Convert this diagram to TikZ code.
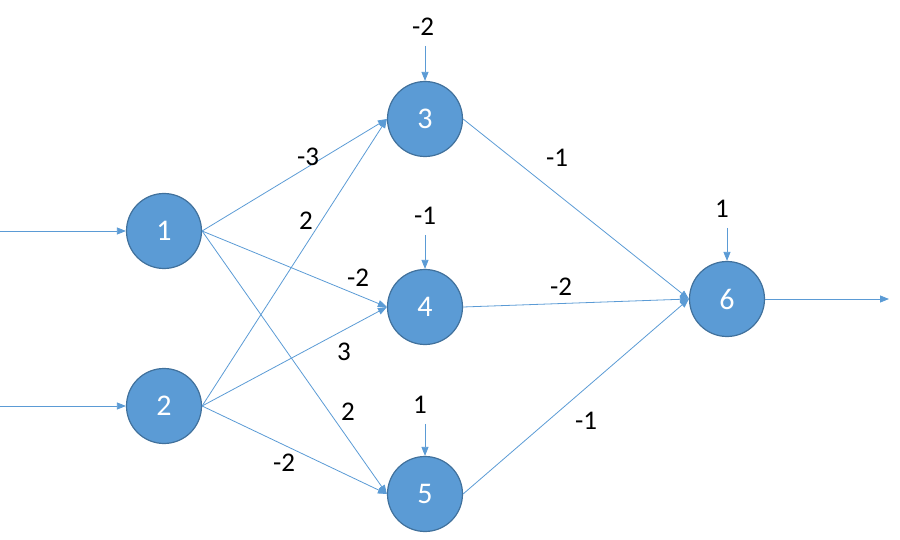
\documentclass[tikz,border=0pt]{standalone}
\usepackage{fontspec}
\setmainfont{Carlito}
\usetikzlibrary{arrows.meta}
\definecolor{cNode}{RGB}{91,155,213}
\definecolor{cRim}{RGB}{65,113,156}

\begin{document}
\begin{tikzpicture}[
  x=1pt, y=-1pt,
  neuron/.style={circle, draw=cRim, fill=cNode, line width=1.2pt,
    minimum size=75pt, inner sep=0pt, text=white,
    font=\fontsize{30}{34}\selectfont},
  wlbl/.style={font=\fontsize{27}{31}\selectfont, text=black, inner sep=2pt},
  arr/.style={-{Triangle[length=9pt,width=7pt]}, cNode, line width=0.8pt},
  bias/.style={arr, shorten <=8pt},
]
\useasboundingbox (0,0) rectangle (900,540);

% Input layer.
\node[neuron] (n1) at (164,231) {1};
\node[neuron] (n2) at (164,406) {2};

% Hidden layer.
\node[neuron] (n3) at (425,119) {3};
\node[neuron] (n4) at (425,307) {4};
\node[neuron] (n5) at (425,494) {5};

% Output layer.
\node[neuron] (n6) at (727,299) {6};

% Free ends of the in/out arrows.
\coordinate (in1) at (0,231);
\coordinate (in2) at (0,406);
\coordinate (out6) at (889,299);

% Biases.
\node[wlbl] (b3) at (423,27) {-2};
\node[wlbl] (b4) at (425,216) {-1};
\node[wlbl] (b5) at (420,405) {1};
\node[wlbl] (b6) at (722,209) {1};

\draw[arr] (in1) -- (n1.west);
\draw[arr] (in2) -- (n2.west);
\draw[arr] (n6.east) -- (out6);

\draw[arr] (n1.east) -- (n3.west);
\draw[arr] (n1.east) -- (n4.west);
\draw[arr] (n1.east) -- (n5.west);
\draw[arr] (n2.east) -- (n3.west);
\draw[arr] (n2.east) -- (n4.west);
\draw[arr] (n2.east) -- (n5.west);
\draw[arr] (n3.east) -- (n6.west);
\draw[arr] (n4.east) -- (n6.west);
\draw[arr] (n5.east) -- (n6.west);

\draw[bias] (n3 |- b3.south) -- (n3.north);
\draw[bias] (n4 |- b4.south) -- (n4.north);
\draw[bias] (n5 |- b5.south) -- (n5.north);
\draw[bias] (n6 |- b6.south) -- (n6.north);

% Weights.
\node[wlbl] (w13) at (308,157) {-3};
\node[wlbl] (w23) at (306,221) {2};
\node[wlbl] (w14) at (358,278) {-2};
\node[wlbl] (w24) at (344,352) {3};
\node[wlbl] (w15) at (348,412) {2};
\node[wlbl] (w25) at (284,463) {-2};
\node[wlbl] (w36) at (557,158) {-1};
\node[wlbl] (w46) at (561,287) {-2};
\node[wlbl] (w56) at (586,421) {-1};

\end{tikzpicture}
\end{document}
